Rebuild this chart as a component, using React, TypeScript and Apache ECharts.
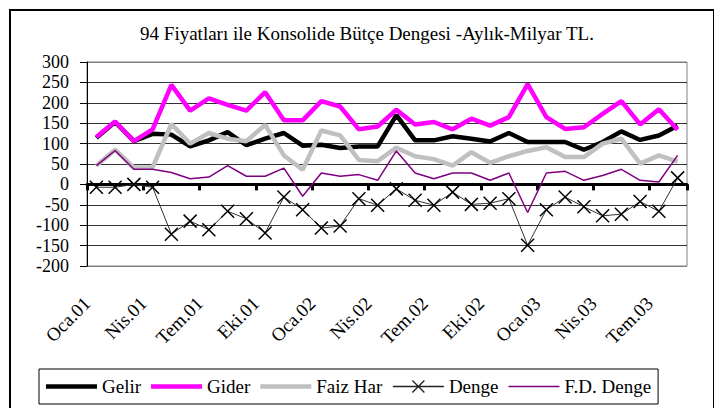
import React, { useEffect, useRef } from "react";
import * as echarts from "echarts";

const categories = [
  "Oca.01", "Şub.01", "Mar.01", "Nis.01", "May.01", "Haz.01", "Tem.01", "Ağu.01", "Eyl.01", "Eki.01", "Kas.01", "Ara.01",
  "Oca.02", "Şub.02", "Mar.02", "Nis.02", "May.02", "Haz.02", "Tem.02", "Ağu.02", "Eyl.02", "Eki.02", "Kas.02", "Ara.02",
  "Oca.03", "Şub.03", "Mar.03", "Nis.03", "May.03", "Haz.03", "Tem.03", "Ağu.03",
];

const gelir = [114, 153, 106, 124, 122, 93, 108, 128, 96, 112, 126, 95, 97, 89, 93, 93, 170, 108, 108, 118, 112, 105, 126, 104, 104, 104, 85, 104, 130, 109, 120, 144];
const gider = [116, 154, 106, 135, 244, 181, 211, 195, 181, 226, 157, 157, 204, 191, 135, 142, 183, 147, 153, 135, 161, 144, 165, 246, 165, 136, 140, 173, 204, 147, 184, 134];
const faizHar = [46, 85, 41, 42, 148, 100, 126, 112, 106, 146, 71, 36, 132, 120, 60, 57, 90, 69, 62, 46, 79, 53, 69, 82, 91, 67, 67, 100, 112, 51, 71, 56];
const denge = [-7, -7, 0, -7, -122, -90, -111, -66, -84, -119, -31, -62, -107, -102, -35, -51, -11, -39, -51, -19, -49, -46, -35, -149, -62, -31, -55, -77, -73, -42, -66, 16];
const fdDenge = [46, 83, 37, 37, 29, 14, 18, 46, 20, 20, 40, -29, 28, 20, 24, 10, 82, 28, 14, 28, 28, 10, 28, -69, 28, 32, 10, 22, 37, 10, 6, 71];

const yMin = -200;
const yMax = 300;
const yStep = 50;

const TITLE = "94 Fiyatları ile Konsolide Bütçe Dengesi -Aylık-Milyar TL.";
const FONT = "Liberation Serif";

const THICK_ICON = "path://M0,0M51,12M0,3.75H51V8.25H0Z";
const THIN_ICON = "path://M0,0M51,12M0,5.25H51V6.75H0Z";
const X_ICON = "path://M0,6H51M19.5,0L31.5,12M31.5,0L19.5,12";

export default function App() {
  const ref = useRef<HTMLDivElement>(null);

  useEffect(() => {
    if (!ref.current) return;
    const chart = echarts.init(ref.current, null, { renderer: "svg" });
    const gridColors: string[] = [];
    for (let v = yMin; v <= yMax; v += yStep) {
      gridColors.push(v === yMin || v === yMax ? "#808080" : "#333333");
    }
    chart.setOption({
      animation: false,
      backgroundColor: "#ffffff",
      textStyle: { fontFamily: FONT, color: "#000" },
      title: {
        text: TITLE,
        left: 354,
        top: 11,
        textAlign: "center",
        textStyle: { fontFamily: FONT, fontSize: 19, fontWeight: "normal", color: "#000" },
      },
      graphic: [
        {
          type: "rect",
          shape: { x: 2, y: 2, width: 704, height: 440 },
          style: { fill: "none", stroke: "#000", lineWidth: 2 },
          silent: true,
        },
      ],
      legend: {
        left: 31,
        top: 361,
        padding: [8, 7, 8, 7],
        itemGap: 10,
        itemWidth: 51,
        itemHeight: 12,
        borderColor: "#000",
        borderWidth: 1,
        textStyle: { fontFamily: FONT, fontSize: 19, color: "#000" },
        data: [
          { name: "Gelir", icon: THICK_ICON, itemStyle: { color: "#000000", borderWidth: 0 } },
          { name: "Gider", icon: THICK_ICON, itemStyle: { color: "#ff00ff", borderWidth: 0 } },
          { name: "Faiz Har", icon: THICK_ICON, itemStyle: { color: "#c0c0c0", borderWidth: 0 } },
          { name: "Denge", icon: X_ICON, itemStyle: { color: "#333333", borderColor: "#222222", borderWidth: 1.3 } },
          { name: "F.D. Denge", icon: THIN_ICON, itemStyle: { color: "#800080", borderWidth: 0 } },
        ],
      },
      grid: {
        left: 79,
        right: 35,
        top: 54,
        bottom: 142,
        show: true,
        borderColor: "#808080",
        borderWidth: 1,
        backgroundColor: "transparent",
      },
      xAxis: [
        {
          type: "category",
          data: categories,
          position: "bottom",
          boundaryGap: true,
          axisLine: { show: true, onZero: true, lineStyle: { color: "#000", width: 3 } },
          axisTick: { show: true, interval: 2, length: 6, lineStyle: { color: "#000", width: 3 } },
          axisLabel: { show: false },
          splitLine: { show: false },
        },
        {
          type: "category",
          data: categories,
          position: "bottom",
          boundaryGap: true,
          axisLine: { show: false, onZero: false },
          axisTick: { show: false },
          axisLabel: {
            show: true,
            interval: 2,
            rotate: 45,
            margin: 25,
            padding: [0, 13, 0, 0],
            fontFamily: FONT,
            fontSize: 19,
            color: "#000",
          },
          splitLine: { show: false },
        },
      ],
      yAxis: {
        type: "value",
        min: yMin,
        max: yMax,
        interval: yStep,
        axisLine: { show: true, lineStyle: { color: "#000", width: 1 } },
        axisTick: { show: true, inside: false, length: 7, lineStyle: { color: "#000" } },
        axisLabel: { fontFamily: FONT, fontSize: 18, color: "#000", margin: 18 },
        splitLine: { show: true, lineStyle: { color: gridColors, width: 1 } },
      },
      series: [
        {
          name: "Gelir",
          type: "line",
          data: gelir,
          symbol: "none",
          lineStyle: { color: "#000000", width: 4.5 },
          itemStyle: { color: "#000000" },
        },
        {
          name: "Gider",
          type: "line",
          data: gider,
          symbol: "none",
          lineStyle: { color: "#ff00ff", width: 4.5 },
          itemStyle: { color: "#ff00ff" },
        },
        {
          name: "Faiz Har",
          type: "line",
          data: faizHar,
          symbol: "none",
          lineStyle: { color: "#c0c0c0", width: 4.5 },
          itemStyle: { color: "#c0c0c0" },
        },
        {
          name: "Denge",
          type: "line",
          data: denge,
          symbol: "path://M0,0L10,10M10,0L0,10",
          symbolSize: 13,
          showAllSymbol: true,
          lineStyle: { color: "#333333", width: 1 },
          itemStyle: { color: "#000", borderColor: "#000", borderWidth: 1.5 },
        },
        {
          name: "F.D. Denge",
          type: "line",
          data: fdDenge,
          symbol: "none",
          lineStyle: { color: "#800080", width: 1.5 },
          itemStyle: { color: "#800080" },
        },
      ],
    });
    return () => chart.dispose();
  }, []);

  return <div ref={ref} style={{ width: 714, height: 400 }} />;
}
